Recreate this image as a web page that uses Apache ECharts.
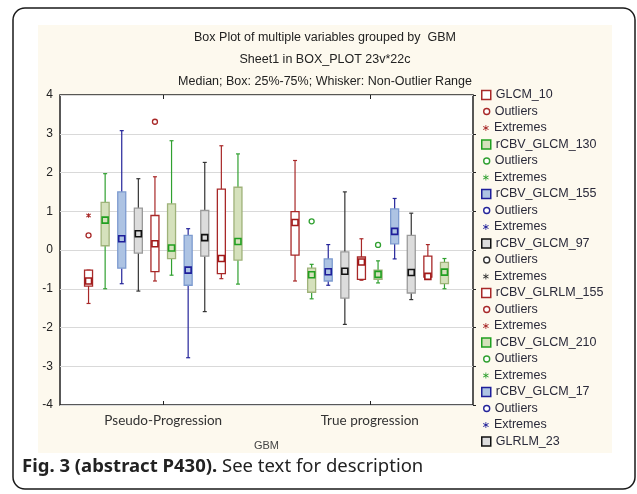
<!DOCTYPE html>
<html><head><meta charset="utf-8">
<script src="https://cdn.jsdelivr.net/npm/echarts@6/dist/echarts.min.js"></script>
<style>html,body{margin:0;padding:0;background:#fff}#c{width:637px;height:494px}</style>
</head><body><div id="c"></div>
<script>
// ---------------- data ----------------
const categories = ['Pseudo-Progression', 'True progression'];
const variableNames = ['GLCM_10', 'rCBV_GLCM_130', 'rCBV_GLCM_155', 'rCBV_GLCM_97', 'rCBV_GLRLM_155',
  'rCBV_GLCM_210', 'rCBV_GLCM_17', 'GLRLM_23', 'Variable_9', 'Variable_10'];
// [lower whisker, 25%, median, 75%, upper whisker] per variable
const pseudoStats = [
  [-1.38, -0.93, -0.80, -0.52, -0.52],
  [-1.00, 0.11, 0.77, 1.23, 1.97],
  [-0.87, -0.47, 0.29, 1.50, 3.08],
  [-1.06, -0.08, 0.42, 1.08, 1.84],
  [-0.80, -0.56, 0.16, 0.89, 1.89],
  [-0.65, -0.22, 0.05, 1.19, 2.82],
  [-2.78, -0.91, -0.52, 0.38, 0.55],
  [-1.59, -0.16, 0.32, 1.02, 2.26],
  [-0.74, -0.61, -0.22, 1.57, 2.69],
  [-0.88, -0.26, 0.22, 1.62, 2.48]
];
const trueStats = [
  [-0.80, -0.13, 0.71, 0.99, 2.31],
  [-1.26, -1.09, -0.64, -0.47, -0.37],
  [-0.91, -0.80, -0.56, -0.23, 0.14],
  [-1.92, -1.24, -0.55, -0.05, 1.50],
  [-0.78, -0.76, -0.31, -0.18, 0.29],
  [-0.85, -0.76, -0.63, -0.52, -0.28],
  [-0.23, 0.16, 0.48, 1.06, 1.33],
  [-1.28, -1.11, -0.58, 0.38, 0.95],
  [-0.72, -0.70, -0.68, -0.16, 0.14],
  [-1.00, -0.87, -0.57, -0.32, -0.22]
];
// [variable index, category index, value]
const outlierPoints = [[0, 0, 0.38], [4, 0, 3.31], [1, 1, 0.74], [5, 1, 0.13]];
const extremePoints = [[0, 0, 0.89]];
const yTicks = [-4, -3, -2, -1, 0, 1, 2, 3, 4];
const legendShownBoxes = 8;      // legend is clipped after GLRLM_23
const legendShownMarks = 7;

// ---------------- styles ----------------
const palette = [
  { whisker: '#a82828', box: '#a82828', fill: '#ffffff', med: '#a01818', mark: '#a82828' },
  { whisker: '#30a030', box: '#9fb27a', fill: '#d5e1bc', med: '#20a020', mark: '#30a030' },
  { whisker: '#24249a', box: '#7d9bcf', fill: '#adc3e3', med: '#1e1e9a', mark: '#24249a' },
  { whisker: '#333333', box: '#9a9a9a', fill: '#dcdcdc', med: '#111111', mark: '#333333' }
];
const N = variableNames.length;
const SLOT = 0.0804, BOXW = 8, CAPW = 4, MED = 6;
const ZW = '\u200b';

function centerX(api, k, cat) {
  const bw = api.size([1, 0])[0];
  return api.coord([cat, 0])[0] + (k - (N - 1) / 2) * bw * SLOT;
}
function boxRenderer(k) {
  const st = palette[k % 4];
  return function (params, api) {
    const cat = api.value(0);
    const cx = centerX(api, k, cat);
    const y = i => api.coord([cat, api.value(i)])[1];
    const yLo = y(1), yQ1 = y(2), yMed = y(3), yQ3 = y(4), yHi = y(5);
    const ls = { stroke: st.whisker, lineWidth: 1.2 };
    return { type: 'group', children: [
      { type: 'line', shape: { x1: cx, y1: yHi, x2: cx, y2: yQ3 }, style: ls },
      { type: 'line', shape: { x1: cx, y1: yQ1, x2: cx, y2: yLo }, style: ls },
      { type: 'line', shape: { x1: cx - CAPW / 2, y1: yHi, x2: cx + CAPW / 2, y2: yHi }, style: ls },
      { type: 'line', shape: { x1: cx - CAPW / 2, y1: yLo, x2: cx + CAPW / 2, y2: yLo }, style: ls },
      { type: 'rect', shape: { x: cx - BOXW / 2, y: yQ3, width: BOXW, height: Math.max(yQ1 - yQ3, 0.5) },
        style: { fill: st.fill, stroke: st.box, lineWidth: 1.3 } },
      { type: 'rect', shape: { x: cx - MED / 2, y: yMed - MED / 2, width: MED, height: MED },
        style: { fill: st.fill, stroke: st.med, lineWidth: 1.6 } }
    ] };
  };
}
function outlierRenderer(k) {
  const st = palette[k % 4];
  return function (params, api) {
    const cat = api.value(0);
    const cx = centerX(api, k, cat);
    const cy = api.coord([cat, api.value(1)])[1];
    return { type: 'circle', shape: { cx: cx, cy: cy, r: 2.5 }, style: { fill: '#fff', stroke: st.mark, lineWidth: 1.3 } };
  };
}
function extremeRenderer(k) {
  const st = palette[k % 4];
  return function (params, api) {
    const cat = api.value(0);
    const cx = centerX(api, k, cat);
    const cy = api.coord([cat, api.value(1)])[1];
    const s = { stroke: st.mark, lineWidth: 1.1 };
    return { type: 'group', children: [
      { type: 'line', shape: { x1: cx - 2.2, y1: cy - 1.6, x2: cx + 2.2, y2: cy + 1.6 }, style: s },
      { type: 'line', shape: { x1: cx - 2.2, y1: cy + 1.6, x2: cx + 2.2, y2: cy - 1.6 }, style: s },
      { type: 'line', shape: { x1: cx, y1: cy - 2.2, x2: cx, y2: cy + 2.2 }, style: s }
    ] };
  };
}

const series = [];
for (let k = 0; k < N; k++) {
  series.push({
    type: 'custom', name: variableNames[k], renderItem: boxRenderer(k),
    itemStyle: { color: palette[k % 4].box },
    encode: { x: 0, y: [1, 2, 3, 4, 5] },
    data: [[0].concat(pseudoStats[k]), [1].concat(trueStats[k])]
  });
}
for (let k = 0; k < N; k++) {
  series.push({
    type: 'custom', name: 'Outliers' + ZW.repeat(k), renderItem: outlierRenderer(k),
    itemStyle: { color: palette[k % 4].mark }, encode: { x: 0, y: 1 },
    data: outlierPoints.filter(p => p[0] === k).map(p => [p[1], p[2]])
  });
  series.push({
    type: 'custom', name: 'Extremes' + ZW.repeat(k), renderItem: extremeRenderer(k),
    itemStyle: { color: palette[k % 4].mark }, encode: { x: 0, y: 1 },
    data: extremePoints.filter(p => p[0] === k).map(p => [p[1], p[2]])
  });
}

const legendText = { fontSize: 12.5, fontFamily: 'Liberation Sans', color: '#2a2a3a', lineHeight: 14 };
const fmt = n => n.replace(/\u200b/g, '');
const asterisk = 'path://M4.4 0.5L5.6 0.5L5.6 9.5L4.4 9.5Z M0.68 3.01L1.32 1.99L9.32 6.99L8.68 8.01Z M1.32 8.01L0.68 6.99L8.68 1.99L9.32 3.01Z';
const PITCH = 49.5;
const legends = [
  { orient: 'vertical', left: 481, top: 88, padding: 0, itemGap: PITCH - 14, itemWidth: 9, itemHeight: 9,
    selectedMode: false, textStyle: legendText, formatter: fmt,
    data: variableNames.slice(0, legendShownBoxes).map((n, k) => ({ name: n, icon: 'rect',
      itemStyle: { color: palette[k % 4].fill, borderColor: k % 4 === 0 ? '#a82828' : palette[k % 4].med, borderWidth: 1.5 } })) },
  { orient: 'vertical', left: 483, top: 88 + 16.5, padding: 0, itemGap: PITCH - 14, itemWidth: 6, itemHeight: 6,
    selectedMode: false, textStyle: legendText, formatter: fmt,
    data: variableNames.slice(0, legendShownMarks).map((n, k) => ({ name: 'Outliers' + ZW.repeat(k), icon: 'circle',
      itemStyle: { color: '#fff', borderColor: palette[k % 4].mark, borderWidth: 1.4 } })) },
  { orient: 'vertical', left: 483, top: 88 + 33, padding: 0, itemGap: PITCH - 14, itemWidth: 6, itemHeight: 6,
    selectedMode: false, textStyle: legendText, formatter: fmt,
    data: variableNames.slice(0, legendShownMarks).map((n, k) => ({ name: 'Extremes' + ZW.repeat(k), icon: asterisk,
      itemStyle: { color: palette[k % 4].mark, borderWidth: 0 } })) }
];

const chart = echarts.init(document.getElementById('c'), null, { renderer: 'canvas' });
chart.setOption({
  animation: false,
  backgroundColor: '#fff',
  title: {
    text: 'Box Plot of multiple variables grouped by  GBM\nSheet1 in BOX_PLOT 23v*22c\nMedian; Box: 25%-75%; Whisker: Non-Outlier Range',
    left: 325, top: 27, textAlign: 'center', padding: 0,
    textStyle: { fontSize: 12.5, fontWeight: 'normal', lineHeight: 22, fontFamily: 'Liberation Sans', color: '#222' }
  },
  legend: legends,
  grid: { left: 60, right: 164, top: 95, bottom: 89, show: true, backgroundColor: '#fff', borderColor: '#222', borderWidth: 1.5 },
  xAxis: [{
    type: 'category', data: categories, position: 'bottom',
    name: 'GBM', nameLocation: 'middle', nameGap: 35,
    nameTextStyle: { fontSize: 11, fontFamily: 'Liberation Sans', color: '#444' },
    axisLine: { show: false, onZero: false },
    axisTick: { show: true, inside: true, length: 4, alignWithLabel: true, lineStyle: { color: '#222' } },
    axisLabel: { margin: 9, fontSize: 13.5, fontFamily: 'Lato', color: '#333' },
    splitLine: { show: false }
  }, {
    type: 'category', data: categories, position: 'top',
    axisLine: { show: false, onZero: false },
    axisTick: { show: true, inside: true, length: 4, alignWithLabel: true, lineStyle: { color: '#222' } },
    axisLabel: { show: false }
  }],
  yAxis: [{
    type: 'value', min: yTicks[0], max: yTicks[yTicks.length - 1], interval: 1,
    axisLine: { show: false }, axisTick: { show: false },
    axisLabel: { margin: 7, fontSize: 12, fontFamily: 'Liberation Sans', color: '#222' },
    splitLine: { show: true, lineStyle: { color: '#d9d9d9', width: 1 } }
  }, {
    type: 'value', min: yTicks[0], max: yTicks[yTicks.length - 1], interval: 1, position: 'right',
    axisLine: { show: false }, axisTick: { show: true, length: 3, lineStyle: { color: '#222' } },
    axisLabel: { show: false }, splitLine: { show: false }
  }],
  graphic: [
    { type: 'rect', z: -20, shape: { x: 13, y: 8, width: 622, height: 481, r: 12 },
      style: { fill: '#fff', stroke: '#1a1a1a', lineWidth: 1.5 } },
    { type: 'rect', z: -10, shape: { x: 38, y: 25, width: 574, height: 428 }, style: { fill: '#fdf9ee' } },
    { type: 'text', left: 22, top: 457, z: 10,
      style: { text: '{b|Fig. 3 (abstract P430).} See text for description', fontSize: 18.5, fontFamily: 'Noto Sans', fill: '#222',
        rich: { b: { fontWeight: 'bold', fontSize: 18.5, fontFamily: 'Noto Sans', fill: '#222' } } } }
  ],
  series: series
});
</script></body></html>
